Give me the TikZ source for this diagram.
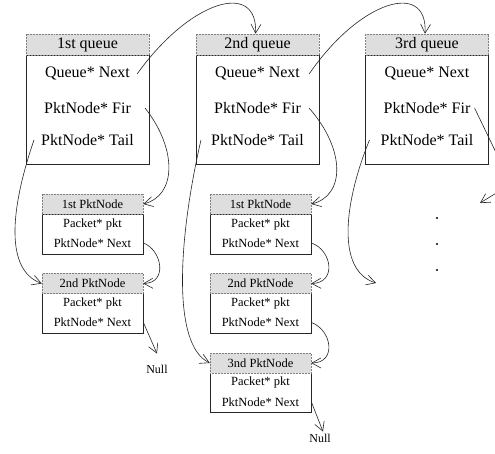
\documentclass[tikz,border=0pt]{standalone}
\usepackage{fontspec}
\setmainfont{Liberation Serif}
\usetikzlibrary{arrows.meta}
\begin{document}
\begin{tikzpicture}[x=1pt,y=-1pt,
  qbody/.style={draw=black!85, line width=0.8pt, minimum width=123pt, minimum height=109pt, inner sep=0pt},
  qhead/.style={fill=black!13, draw=black!50, densely dotted, line width=0.5pt, minimum width=123pt, minimum height=21pt, inner sep=0pt, font=\fontsize{16}{18}\selectfont},
  qtext/.style={font=\fontsize{16}{18}\selectfont, inner sep=4pt},
  pbody/.style={draw=black!85, line width=0.8pt, minimum width=101pt, minimum height=40pt, inner sep=0pt},
  phead/.style={fill=black!13, draw=black!50, densely dotted, line width=0.5pt, minimum width=101pt, minimum height=20pt, inner sep=0pt, font=\fontsize{12.5}{14}\selectfont},
  ptext/.style={font=\fontsize{12.5}{14}\selectfont, inner sep=3pt},
  nulltext/.style={font=\fontsize{12}{14}\selectfont, inner sep=2pt},
  link/.style={draw=black!85, line width=0.6pt, -{Straight Barb[length=9pt,width=10pt]}},
  plainlink/.style={draw=black!85, line width=0.6pt},
  dotmark/.style={circle, fill=black, inner sep=0pt, minimum size=2.2pt}
]
\useasboundingbox (0,0) rectangle (495,454);
\fill[white] (0,0) rectangle (495,454);

% ---------- queues ----------
\node[qbody] (q1b) at (87.5,109.5) {};
\node[qhead] (q1h) at (87.5,44.5) {1st queue};
\node[qtext] (q1next) at (87.5,74) {Queue* Next};
\node[qtext] (q1fir) at (87.5,108) {PktNode* Fir};
\node[qtext] (q1tail) at (87.5,140) {PktNode* Tail};

\node[qbody] (q2b) at (257.5,109.5) {};
\node[qhead] (q2h) at (257.5,44.5) {2nd queue};
\node[qtext] (q2next) at (257.5,74) {Queue* Next};
\node[qtext] (q2fir) at (257.5,108) {PktNode* Fir};
\node[qtext] (q2tail) at (257.5,140) {PktNode* Tail};

\node[qbody] (q3b) at (427,109.5) {};
\node[qhead] (q3h) at (427,44.5) {3rd queue};
\node[qtext] (q3next) at (427,74) {Queue* Next};
\node[qtext] (q3fir) at (427,108) {PktNode* Fir};
\node[qtext] (q3tail) at (427,140) {PktNode* Tail};

% ---------- packet nodes, column 1 ----------
\node[pbody] (p11b) at (92.5,234) {};
\node[phead] (p11h) at (92.5,204) {1st PktNode};
\node[ptext] (p11pkt) at (92.5,224) {Packet* pkt};
\node[ptext] (p11next) at (92.5,243) {PktNode* Next};

\node[pbody] (p12b) at (92.5,313.5) {};
\node[phead] (p12h) at (92.5,283.5) {2nd PktNode};
\node[ptext] (p12pkt) at (92.5,303) {Packet* pkt};
\node[ptext] (p12next) at (92.5,322.5) {PktNode* Next};

\node[nulltext] (null1) at (157,369) {Null};

% ---------- packet nodes, column 2 ----------
\node[pbody] (p21b) at (260.5,234) {};
\node[phead] (p21h) at (260.5,204) {1st PktNode};
\node[ptext] (p21pkt) at (260.5,224) {Packet* pkt};
\node[ptext] (p21next) at (260.5,243) {PktNode* Next};

\node[pbody] (p22b) at (260.5,313.5) {};
\node[phead] (p22h) at (260.5,283.5) {2nd PktNode};
\node[ptext] (p22pkt) at (260.5,303) {Packet* pkt};
\node[ptext] (p22next) at (260.5,322.5) {PktNode* Next};

\node[pbody] (p23b) at (260.5,392.5) {};
\node[phead] (p23h) at (260.5,363) {3nd PktNode};
\node[ptext] (p23pkt) at (260.5,382) {Packet* pkt};
\node[ptext] (p23next) at (260.5,402) {PktNode* Next};

\node[nulltext] (null2) at (320,438) {Null};

% ---------- dots ----------
\node[dotmark] (d1) at (437,218) {};
\node[dotmark] (d2) at (437,244) {};
\node[dotmark] (d3) at (437,270) {};

% free ends
\coordinate (q3tailend) at (376,283);
\coordinate (q3firend) at (502,165);
\coordinate (instart) at (498,192);
\coordinate (inend) at (480,203);

% ---------- connectors ----------
\draw[link] ([xshift=3pt]q1next.east) .. controls (190,0) and (258,-20) .. ([xshift=-2pt]q2h.north);
\draw[link] ([xshift=5pt]q2next.east) .. controls (360,0) and (428,-20) .. ([xshift=-2pt]q3h.north);

\draw[link] ([xshift=10pt]q1fir.east) .. controls (178,150) and (176,196) .. (p11h.east);
\draw[link] ([xshift=-3pt]q1tail.west) .. controls (10,210) and (5,270) .. (p12h.west);
\draw[link] (p11b.east |- p11next) .. controls (162,250) and (168,283) .. (p12h.east);
\draw[link] (p12b.east |- p12next) -- ([yshift=9pt]null1.north);

\draw[link] ([xshift=4pt]q2fir.east) .. controls (346,150) and (345,196) .. (p21h.east);
\draw[link] ([xshift=-6pt]q2tail.west) .. controls (178,240) and (172,345) .. (p23h.west);
\draw[link] (p21b.east |- p21next) .. controls (332,250) and (337,283) .. (p22h.east);
\draw[link] (p22b.east |- p22next) .. controls (332,330) and (337,363) .. (p23h.east);
\draw[link] (p23b.east |- p23next) -- ([xshift=3pt]null2.north);

\draw[link] ([xshift=-7pt]q3tail.west) .. controls (345,200) and (335,270) .. (q3tailend);
\draw[plainlink] (q3fir.east) -- (q3firend);
\draw[link] (instart) -- (inend);
\end{tikzpicture}
\end{document}
